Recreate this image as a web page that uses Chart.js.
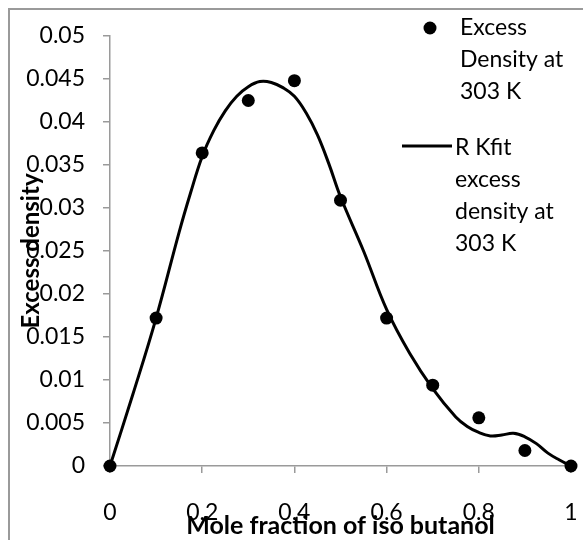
<!DOCTYPE html>
<html><head><meta charset="utf-8">
<script src="https://cdn.jsdelivr.net/npm/chart.js@4"></script>
<style>html,body{margin:0;padding:0;background:#fff}#wrap{width:583px;height:540px}</style>
</head><body><div id="wrap"><canvas id="c" width="583" height="540"></canvas></div>
<script>
// Measured data (mole fraction of iso butanol vs excess density)
const moleFraction = [0, 0.1, 0.2, 0.3, 0.4, 0.5, 0.6, 0.7, 0.8, 0.9, 1.0];
const excessDensity = [0, 0.0172, 0.0364, 0.0425, 0.0448, 0.0309, 0.0172, 0.0094, 0.0056, 0.0018, 0];
// R-K fit curve
const fitX = [0, 0.05, 0.1, 0.15, 0.175, 0.2, 0.225, 0.25, 0.275, 0.3, 0.325, 0.35, 0.375, 0.4, 0.425, 0.45, 0.475, 0.5, 0.55, 0.6, 0.65, 0.7, 0.75, 0.775, 0.8, 0.825, 0.85, 0.875, 0.9, 0.925, 0.95, 0.975, 1.0];
const fitY = [0, 0.0084, 0.0172, 0.0272, 0.0318, 0.0360, 0.0390, 0.0413, 0.0430, 0.0441, 0.0447, 0.0446, 0.0440, 0.0430, 0.0411, 0.0385, 0.0351, 0.0313, 0.0250, 0.0182, 0.0131, 0.0090, 0.0057, 0.0046, 0.0039, 0.0035, 0.0036, 0.0038, 0.0034, 0.0026, 0.0015, 0.0007, 0];
const xTickValues = [0, 0.2, 0.4, 0.6, 0.8, 1];
const xTickLabels = ['0', '0.2', '0.4', '0.6', '0.8', '1'];
const yTickValues = [0, 0.005, 0.01, 0.015, 0.02, 0.025, 0.03, 0.035, 0.04, 0.045, 0.05];
const yTickLabels = ['0', '0.005', '0.01', '0.015', '0.02', '0.025', '0.03', '0.035', '0.04', '0.045', '0.05'];
const seriesNames = [['Excess', 'Density at', '303 K'], ['R Kfit', 'excess', 'density at', '303 K']];
const xTitle = 'Mole fraction of iso butanol';
const yTitle = 'Excess density';

const FONT = 'Lato, "Open Sans", sans-serif';
const AXIS = '#9a9a9a';

const frame = {
  id: 'frame',
  beforeDraw(chart) {
    const c = chart.ctx;
    c.save();
    c.fillStyle = '#fff';
    c.fillRect(0, 0, chart.width, chart.height);
    c.strokeStyle = '#9a9a9a';
    c.lineWidth = 2;
    c.strokeRect(9, 9, 700, 700);
    c.restore();
  }
};

const legendBox = {
  id: 'legendBox',
  afterDraw(chart) {
    const c = chart.ctx;
    c.save();
    c.font = '23px ' + FONT;
    c.fillStyle = '#000';
    c.textBaseline = 'middle';
    c.textAlign = 'left';
    const starts = [28, 148];
    chart.data.datasets.forEach((ds, i) => {
      const y0 = starts[i];
      if (ds.showLine) {
        c.strokeStyle = ds.borderColor;
        c.lineWidth = ds.borderWidth;
        c.beginPath();
        c.moveTo(402, y0 - 2);
        c.lineTo(452, y0 - 2);
        c.stroke();
      } else {
        c.fillStyle = ds.backgroundColor;
        c.beginPath();
        c.arc(430, y0, ds.pointRadius, 0, Math.PI * 2);
        c.fill();
        c.fillStyle = '#000';
      }
      ds.legendLines.forEach((t, k) => {
        c.fillText(t, i === 0 ? 460 : 455, y0 + k * 32);
      });
    });
    c.restore();
  }
};

new Chart(document.getElementById('c'), {
  type: 'scatter',
  data: {
    datasets: [
      {
        label: seriesNames[0].join(' '),
        legendLines: seriesNames[0],
        data: moleFraction.map((x, i) => ({x, y: excessDensity[i]})),
        showLine: false,
        pointRadius: 6.5,
        pointHoverRadius: 6.5,
        backgroundColor: '#000',
        borderColor: '#000',
        borderWidth: 0,
        clip: false,
        order: 0
      },
      {
        label: seriesNames[1].join(' '),
        legendLines: seriesNames[1],
        data: fitX.map((x, i) => ({x, y: fitY[i]})),
        showLine: true,
        pointRadius: 0,
        pointHoverRadius: 0,
        borderColor: '#000',
        backgroundColor: '#000',
        borderWidth: 3,
        tension: 0.4,
        clip: false,
        order: 1
      }
    ]
  },
  options: {
    responsive: false,
    animation: false,
    devicePixelRatio: 1,
    layout: {padding: {top: 36, right: 12, left: 0, bottom: 0}},
    plugins: {legend: {display: false}, tooltip: {enabled: false}},
    scales: {
      x: {
        type: 'linear', min: 0, max: 1,
        afterBuildTicks: s => { s.ticks = xTickValues.map(v => ({value: v})); },
        afterFit: s => { s.height = 74; s.paddingLeft = 0; s.paddingRight = 0; },
        ticks: {callback: (v, i) => xTickLabels[i], color: '#000', font: {family: FONT, size: 23}, padding: 26, maxRotation: 0, autoSkip: false},
        grid: {display: true, drawOnChartArea: false, drawTicks: true, tickLength: 7, color: AXIS, lineWidth: 1.5},
        border: {display: true, color: AXIS, width: 1.5},
        title: {display: true, text: xTitle, color: '#000', font: {family: FONT, size: 25, weight: 'bold', lineHeight: 1.1}, padding: {top: 0, bottom: 0}}
      },
      y: {
        type: 'linear', min: 0, max: 0.05,
        afterBuildTicks: s => { s.ticks = yTickValues.map(v => ({value: v})); },
        afterFit: s => { s.width = 110; },
        ticks: {callback: (v, i) => yTickLabels[i], color: '#000', font: {family: FONT, size: 23}, padding: 18, autoSkip: false},
        grid: {display: true, drawOnChartArea: false, drawTicks: true, tickLength: 7, color: AXIS, lineWidth: 1.5},
        border: {display: true, color: AXIS, width: 1.5},
        title: {display: true, text: yTitle, color: '#000', font: {family: FONT, size: 24, weight: 'bold', lineHeight: 1.1}, padding: {top: 18, bottom: 0}}
      }
    }
  },
  plugins: [frame, legendBox]
});
</script>
</body></html>
